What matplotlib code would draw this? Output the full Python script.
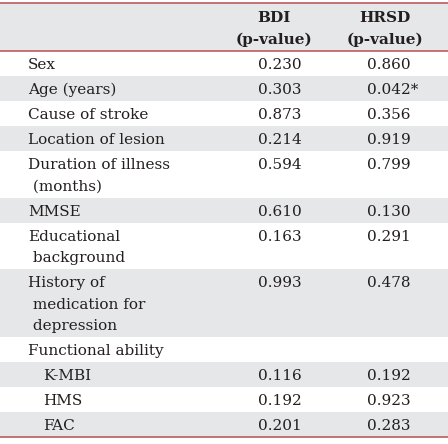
import matplotlib.pyplot as plt
from matplotlib.patches import Rectangle

# table content
header_cols = ["BDI\n(p-value)", "HRSD\n(p-value)"]
row_labels = ["Sex", "Age (years)", "Cause of stroke", "Location of lesion",
              "Duration of illness\n (months)", "MMSE", "Educational\n background",
              "History of\n medication for\n depression", "Functional ability",
              "K-MBI", "HMS", "FAC"]
indented = [False] * 9 + [True] * 3
bdi = ["0.230", "0.303", "0.873", "0.214", "0.594", "0.610", "0.163", "0.993", "",
       "0.116", "0.192", "0.201"]
hrsd = ["0.860", "0.042*", "0.356", "0.919", "0.799", "0.130", "0.291", "0.478", "",
        "0.192", "0.923", "0.283"]

gray = "#e6e7e8"
red = "#bf5a60"
txt = "#231f20"
font = "DejaVu Serif"
fs = 11

W, H = 448, 444
fig = plt.figure(figsize=(W / 100, H / 100), dpi=100)
ax = fig.add_axes([0, 0, 1, 1])
ax.set_xlim(0, W)
ax.set_ylim(H, 0)
ax.axis('off')

line_h = 21.5
pad = 3.5
x_label = 28
x_bdi, x_hrsd = 258, 367
c_bdi, c_hrsd = 274, 385

# header
top = 3.5
hh = 47.5
ax.add_patch(Rectangle((0, top), W, hh, color=gray, lw=0))
for c, t in zip([c_bdi, c_hrsd], header_cols):
    for i, ln in enumerate(t.split("\n")):
        ax.text(c, top + 19 + i * line_h, ln, ha='center', va='baseline',
                family=font, fontsize=fs, color=txt, fontweight='bold')
ax.axhline(top, color=red, lw=1.2)
y = top + hh
ax.axhline(y, color=red, lw=1.2)

for k, lab in enumerate(row_labels):
    lines = lab.split("\n")
    rh = len(lines) * line_h + pad
    if k % 2 == 1:
        ax.add_patch(Rectangle((0, y), W, rh, color=gray, lw=0))
    xl = x_label + (15 if indented[k] else 0)
    for i, ln in enumerate(lines):
        ax.text(xl, y + 18 + i * line_h, ln, ha='left', va='baseline',
                family=font, fontsize=fs, color=txt)
    ax.text(x_bdi, y + 18, bdi[k], ha='left', va='baseline', family=font, fontsize=fs, color=txt)
    ax.text(x_hrsd, y + 18, hrsd[k], ha='left', va='baseline', family=font, fontsize=fs, color=txt)
    y += rh

ax.axhline(y, color=red, lw=1.2)

fig.savefig("out.png", dpi=100)
